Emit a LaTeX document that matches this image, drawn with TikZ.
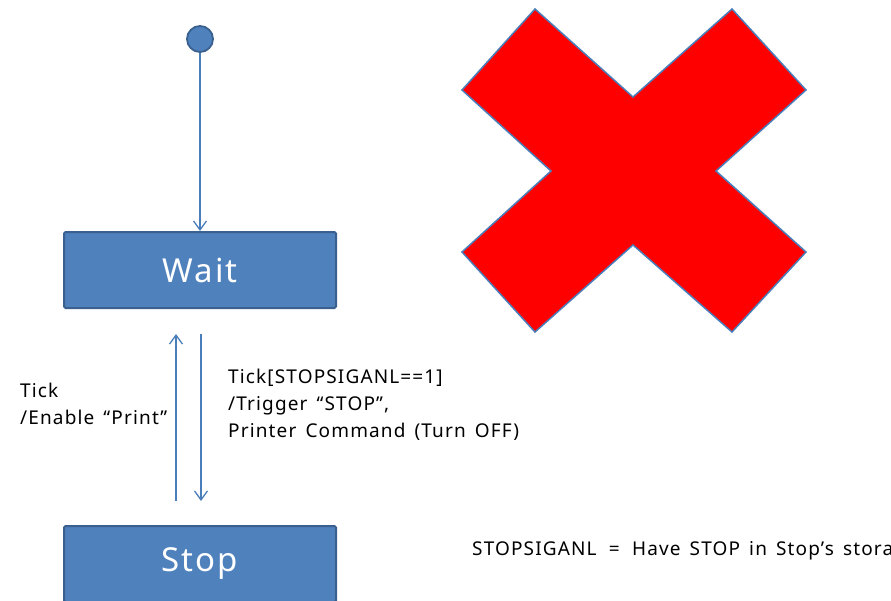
\documentclass[tikz,border=0pt]{standalone}
\usepackage{fontspec}
\setmainfont{Noto Sans}
\newfontfamily\widefont[LetterSpace=6,WordSpace=1.5]{Noto Sans}
\usetikzlibrary{arrows.meta}
\definecolor{boxfill}{HTML}{4F81BD}
\definecolor{boxline}{HTML}{3A6090}
\definecolor{arrowc}{HTML}{4A7EBB}
\begin{document}
\begin{tikzpicture}[x=1pt,y=-1pt,
  statebox/.style={draw=boxline, line width=2pt, fill=boxfill, rounded corners=1.5pt,
    minimum width=272pt, minimum height=76pt, inner sep=0pt, text=white,
    font=\widefont\fontsize{33}{36}\selectfont},
  startdot/.style={circle, draw=boxline, line width=1.8pt, fill=boxfill,
    minimum size=26pt, inner sep=0pt},
  flow/.style={draw=arrowc, line width=1.5pt, -{Straight Barb[length=9pt,width=13pt,line width=1.3pt]}},
  lbl/.style={align=left, anchor=west, inner sep=0pt, font=\widefont\fontsize{19}{27}\selectfont},
  crossmark/.style={draw=arrowc, line width=1.5pt, fill=red}]
\useasboundingbox (0,0) rectangle (891,600);
\clip (0,0) rectangle (891,600);
\fill[white] (0,0) rectangle (891,600);

\node[startdot] (init) at (200,39) {};
\node[statebox] (wait) at (200,270) {Wait};
\node[statebox] (stop) at (200,564) {Stop};

\draw[flow] (init) -- (wait);
\draw[flow] ([xshift=-24pt,yshift=24pt]stop.north) -- ([xshift=-24pt,yshift=-25pt]wait.south);
\draw[flow] ([xshift=1pt,yshift=-25pt]wait.south) -- ([xshift=1pt,yshift=24pt]stop.north);

\node[lbl] (lup) at (20,404) {Tick\\/Enable “Print”};
\node[lbl] (ldown) at (228,405) {Tick[STOPSIGANL==1]\\/Trigger “STOP”,\\Printer Command (Turn OFF)};

\path[crossmark] (535,9) -- (633,97) -- (732,9) -- (806,90) -- (716,171) -- (806,252)
  -- (732,332) -- (633,245) -- (535,332) -- (462,252) -- (551,171) -- (462,90) -- cycle;

\node[lbl] (note) at (472,551) {STOPSIGANL \,=\, Have STOP in Stop’s storage};
\end{tikzpicture}
\end{document}
